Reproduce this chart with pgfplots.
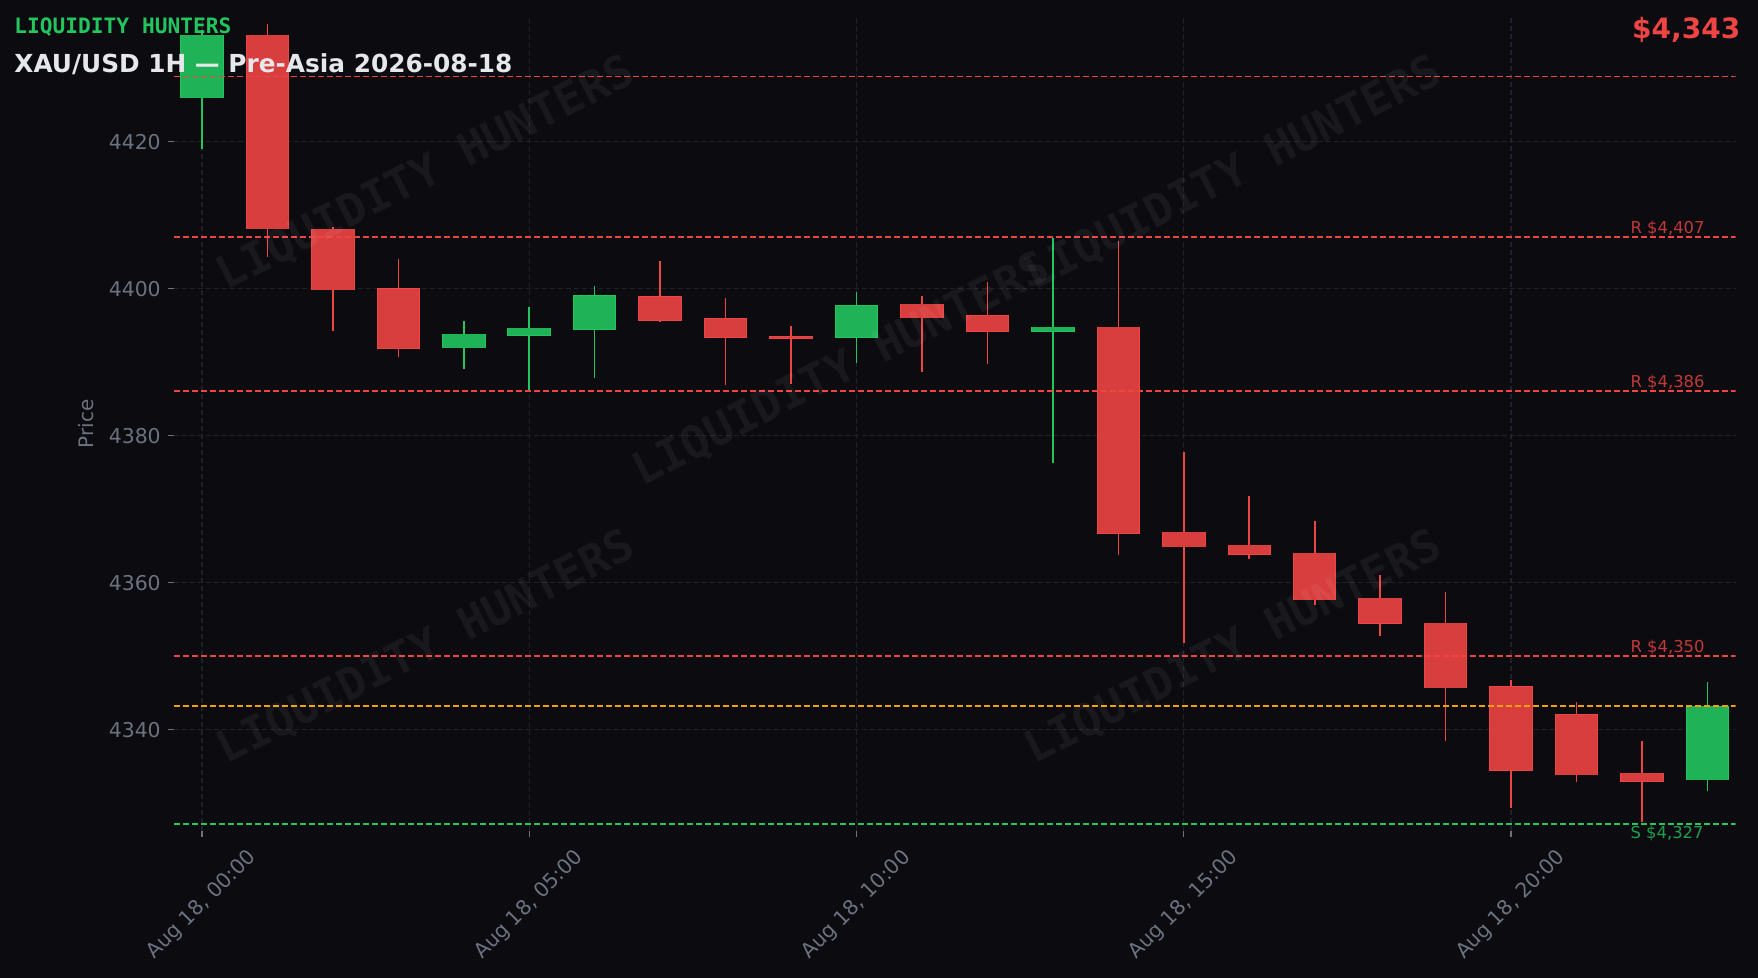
\documentclass[border=0pt]{standalone}
\usepackage{pgfplots}
\pgfplotsset{compat=1.18}
\usepackage{pgfplotstable}
\usepackage{fontspec}
\setmainfont{DejaVu Sans}
\newfontfamily\brandfont{DejaVu Sans Mono}
\newfontfamily\wmfont{DejaVu Sans Mono}

\definecolor{bg}{RGB}{11,11,16}
\definecolor{upc}{HTML}{22C55E}
\definecolor{dnc}{HTML}{EF4444}
\definecolor{upfill}{RGB}{32,178,86}
\definecolor{dnfill}{RGB}{216,62,62}
\definecolor{gridc}{RGB}{32,33,42}
\definecolor{tickc}{HTML}{6B7280}
\definecolor{amber}{HTML}{F59E0B}
\definecolor{rlab}{RGB}{193,57,57}
\definecolor{slab}{RGB}{29,160,78}
\definecolor{titlec}{HTML}{E5E7EB}

\pgfplotstableread{
x o h l c
0 4426.0 4435.2 4419.0 4434.5
4 4392.0 4395.6 4389.1 4393.8
5 4393.7 4397.6 4386.2 4394.6
6 4394.5 4400.4 4387.9 4399.05
10 4393.4 4399.6 4389.9 4397.7
13 4394.2 4406.9 4376.3 4394.8
23 4333.2 4346.5 4331.7 4343.2
}\upcandles

\pgfplotstableread{
x o h l c
1 4434.5 4436.1 4404.4 4408.2
2 4408.1 4408.4 4394.3 4399.9
3 4400.0 4404.1 4390.7 4391.9
7 4398.9 4403.8 4395.5 4395.7
8 4395.9 4398.7 4386.9 4393.4
9 4393.5 4395.0 4387.1 4393.3
11 4397.9 4399.0 4388.7 4396.1
12 4396.3 4400.9 4389.8 4394.2
14 4394.75 4406.5 4363.8 4366.7
15 4366.9 4377.8 4351.8 4364.9
16 4365.1 4371.8 4363.3 4363.9
17 4364.0 4368.4 4357.0 4357.7
18 4357.9 4361.0 4352.8 4354.5
19 4354.5 4358.7 4338.4 4345.7
20 4345.8 4346.7 4329.3 4334.5
21 4342.0 4343.8 4332.85 4333.85
22 4334.1 4338.5 4327.4 4333.0
}\downcandles

\begin{document}
\begin{tikzpicture}
\useasboundingbox (0,0) rectangle (879pt,489pt);
\fill[bg] (0,0) rectangle (879pt,489pt);
\begin{axis}[
  at={(86.9pt,73.5pt)}, anchor=south west,
  scale only axis, width=780.9pt, height=407pt,
  xmin=-0.43, xmax=23.43, ymin=4326.2, ymax=4437.0,
  clip mode=individual,
  axis line style={draw=none},
  xtick={0,5,10,15,20},
  xticklabels={{Aug 18, 00:00},{Aug 18, 05:00},{Aug 18, 10:00},{Aug 18, 15:00},{Aug 18, 20:00}},
  ytick={4340,4360,4380,4400,4420},
  xtick pos=bottom, ytick pos=left,
  tick align=outside, major tick length=3pt,
  tick style={tickc, line width=0.6pt},
  grid=major,
  major grid style={gridc, line width=0.6pt, dash pattern=on 2.4pt off 1.6pt},
  ticklabel style={text=tickc, font=\fontsize{10.2}{12}\selectfont},
  /pgf/number format/assume math mode=true,
  /pgf/number format/1000 sep={},
  xticklabel style={yshift=-34pt, rotate=45, anchor=center},
  ylabel={Price},
  every axis y label/.style={at={(axis description cs:0,0.5)}, xshift=-43.9pt, rotate=90, anchor=center, text=tickc, font=\fontsize{10}{12}\selectfont},
]
% wicks
\addplot[draw=none, mark=none, forget plot,
  error bars/.cd, y dir=both, y explicit, error mark=none,
  error bar style={draw=upc, line width=0.8pt, solid}]
  table[x=x, y expr={(\thisrow{h}+\thisrow{l})/2}, y error expr={(\thisrow{h}-\thisrow{l})/2}] {\upcandles};
\addplot[draw=none, mark=none, forget plot,
  error bars/.cd, y dir=both, y explicit, error mark=none,
  error bar style={draw=dnc, line width=0.8pt, solid}]
  table[x=x, y expr={(\thisrow{h}+\thisrow{l})/2}, y error expr={(\thisrow{h}-\thisrow{l})/2}] {\downcandles};
% bodies: edge
\addplot[draw=none, mark=none, forget plot,
  error bars/.cd, y dir=both, y explicit, error mark=none,
  error bar style={draw=upc, line width=21.75pt, solid}]
  table[x=x, y expr={(\thisrow{o}+\thisrow{c})/2}, y error expr={abs(\thisrow{c}-\thisrow{o})/2+0.07}] {\upcandles};
\addplot[draw=none, mark=none, forget plot,
  error bars/.cd, y dir=both, y explicit, error mark=none,
  error bar style={draw=dnc, line width=21.75pt, solid}]
  table[x=x, y expr={(\thisrow{o}+\thisrow{c})/2}, y error expr={abs(\thisrow{c}-\thisrow{o})/2+0.07}] {\downcandles};
% bodies: fill
\addplot[draw=none, mark=none, forget plot,
  error bars/.cd, y dir=both, y explicit, error mark=none,
  error bar style={draw=upfill, line width=20.75pt, solid}]
  table[x=x, y expr={(\thisrow{o}+\thisrow{c})/2}, y error expr={abs(\thisrow{c}-\thisrow{o})/2}] {\upcandles};
\addplot[draw=none, mark=none, forget plot,
  error bars/.cd, y dir=both, y explicit, error mark=none,
  error bar style={draw=dnfill, line width=20.75pt, solid}]
  table[x=x, y expr={(\thisrow{o}+\thisrow{c})/2}, y error expr={abs(\thisrow{c}-\thisrow{o})/2}] {\downcandles};
% levels
\addplot[dnc, line width=0.9pt, dash pattern=on 3.2pt off 1.3pt, forget plot] coordinates {(-0.43,4428.9) (23.43,4428.9)};
\addplot[dnc, line width=0.9pt, dash pattern=on 3.2pt off 1.3pt, forget plot] coordinates {(-0.43,4407) (23.43,4407)};
\addplot[dnc, line width=0.9pt, dash pattern=on 3.2pt off 1.3pt, forget plot] coordinates {(-0.43,4386.1) (23.43,4386.1)};
\addplot[dnc, line width=0.9pt, dash pattern=on 3.2pt off 1.3pt, forget plot] coordinates {(-0.43,4350) (23.43,4350)};
\addplot[amber, line width=0.9pt, dash pattern=on 3.2pt off 1.3pt, forget plot] coordinates {(-0.43,4343.2) (23.43,4343.2)};
\addplot[upc, line width=0.9pt, dash pattern=on 3.2pt off 1.3pt, forget plot] coordinates {(-0.43,4327.1) (23.43,4327.1)};
% level labels
\node[anchor=base west, inner sep=0, text=rlab, font=\fontsize{8.2}{10}\selectfont, yshift=1.7pt] at (axis cs:21.82,4407) {R \$4,407};
\node[anchor=base west, inner sep=0, text=rlab, font=\fontsize{8.2}{10}\selectfont, yshift=1.7pt] at (axis cs:21.82,4386.1) {R \$4,386};
\node[anchor=base west, inner sep=0, text=rlab, font=\fontsize{8.2}{10}\selectfont, yshift=1.7pt] at (axis cs:21.82,4350) {R \$4,350};
\node[anchor=north west, inner sep=0, text=slab, font=\fontsize{8.2}{10}\selectfont, yshift=-0.6pt] at (axis cs:21.82,4327.1) {S \$4,327};
\end{axis}
% watermarks
\foreach \wx/\wy in {213/402, 616.5/402, 420.5/304, 213/165, 616.5/165}{
  \node[rotate=27, text=white, text opacity=0.055, font=\wmfont\bfseries\fontsize{22.5}{27}\selectfont] at (\wx pt,\wy pt) {LIQUIDITY HUNTERS};
}
% titles
\node[anchor=base west, inner sep=0, text=upc, font=\brandfont\bfseries\fontsize{10.6}{13}\selectfont] at (7pt,472.3pt) {LIQUIDITY HUNTERS};
\node[anchor=base west, inner sep=0, text=titlec, font=\bfseries\fontsize{12.4}{15}\selectfont] at (7pt,452.7pt) {XAU/USD 1H — Pre-Asia 2026-08-18};
\node[anchor=base east, inner sep=0, text=dnc, font=\bfseries\fontsize{14}{16}\selectfont] at (870.3pt,469.8pt) {\$4,343};
\end{tikzpicture}
\end{document}
